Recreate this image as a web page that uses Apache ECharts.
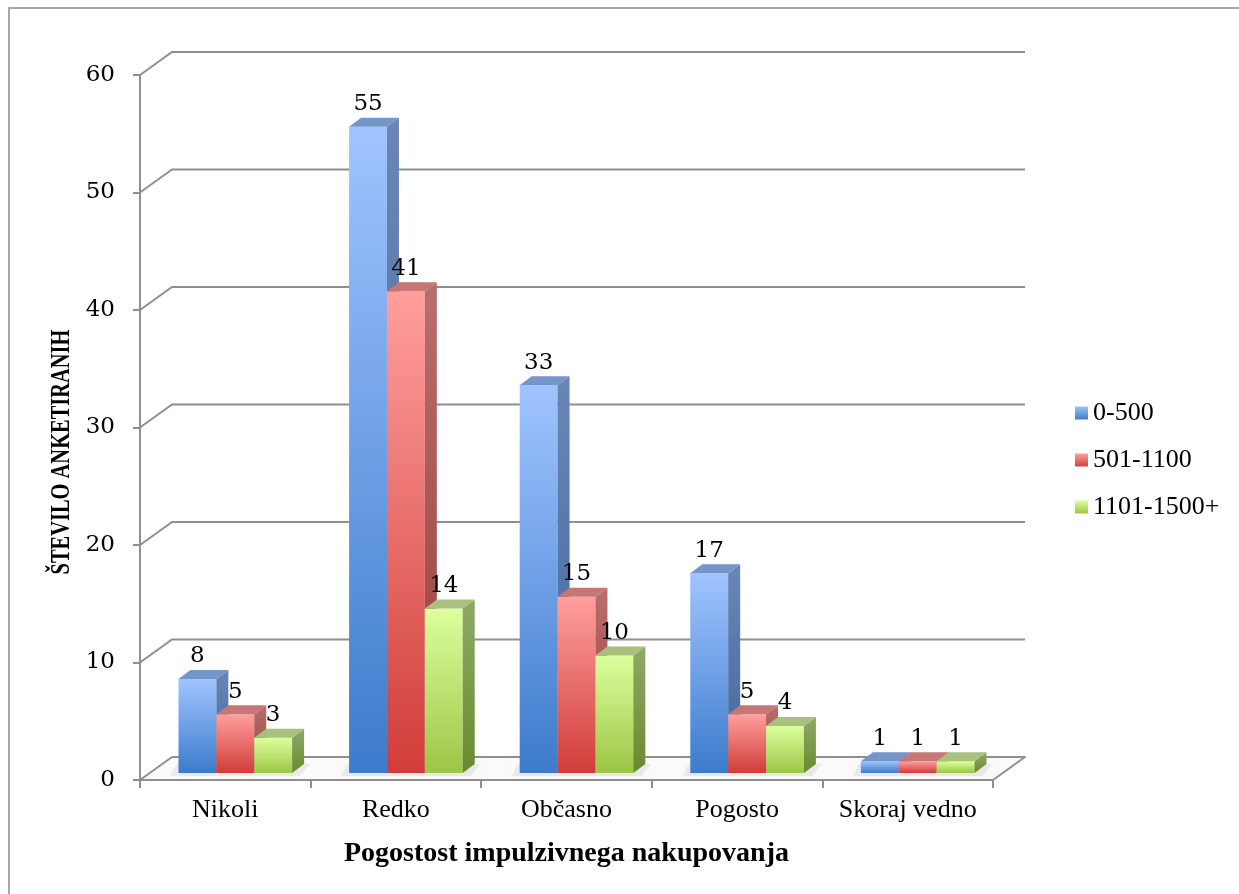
<!DOCTYPE html>
<html>
<head>
<meta charset="utf-8">
<script src="https://cdn.jsdelivr.net/npm/echarts@6/dist/echarts.min.js"></script>
<style>
  html, body { margin: 0; padding: 0; background: #fff; }
  #chart { width: 1239px; height: 894px; }
</style>
</head>
<body>
<div id="chart"></div>
<script>
// Survey answers: how often respondents shop on impulse, by spending bracket
const categories = ['Nikoli', 'Redko', 'Občasno', 'Pogosto', 'Skoraj vedno'];
const seriesNames = ['0-500', '501-1100', '1101-1500+'];
const values0_500 = [8, 55, 33, 17, 1];
const values501_1100 = [5, 41, 15, 5, 1];
const values1101_1500 = [3, 14, 10, 4, 1];
const yTicks = [0, 10, 20, 30, 40, 50, 60];

const xTitle = 'Pogostost impulzivnega nakupovanja';
const yTitle = 'ŠTEVILO ANKETIRANIH';

// Pseudo-3D geometry (pixels): depth of the floor / back wall, bar placement in depth
const WALL_DX = 32, WALL_DY = -23;
const BAR_OX = 10, BAR_OY = -7;
const BAR_DX = 12, BAR_DY = -9;
const BAR_FRACTION = 0.222;

const palettes = [
  { front: ['#a0c4ff', '#3c7bcc'], side: ['#6a86b6', '#3f669e'], top: '#7495c9', legend: ['#9ec2fb', '#3e7dcd'] },
  { front: ['#ff9f9c', '#d03d39'], side: ['#b86f6d', '#9a3c39'], top: '#c47775', legend: ['#ff9e9b', '#d2423e'] },
  { front: ['#dcff9c', '#9cc646'], side: ['#8fa968', '#6a8a2e'], top: '#a9c07e', legend: ['#ddff9f', '#9dc748'] }
];

function vGrad(c0, c1) {
  return new echarts.graphic.LinearGradient(0, 0, 0, 1, [
    { offset: 0, color: c0 }, { offset: 1, color: c1 }
  ]);
}

const lineColor = '#8f8f8f';

// Back-wall gridlines, left-wall diagonals and the floor
function renderWall(params, api) {
  const v = api.value(1);
  const p = api.coord([0, v]);
  const band = api.size([1, 0])[0];
  const xl = p[0] - band / 2;
  const xr = xl + band * categories.length;
  const y = p[1];
  const children = [];
  if (v === 0) {
    children.push({
      type: 'polygon',
      shape: { points: [[xl, y], [xr, y], [xr + WALL_DX, y + WALL_DY], [xl + WALL_DX, y + WALL_DY]] },
      style: { fill: '#fbfbfb', stroke: lineColor, lineWidth: 2, lineJoin: 'round' }
    });
  } else {
    children.push({
      type: 'polyline',
      shape: { points: [[xl, y], [xl + WALL_DX, y + WALL_DY], [xr + WALL_DX, y + WALL_DY]] },
      style: { stroke: lineColor, lineWidth: 2, fill: null }
    });
  }
  return { type: 'group', children: children };
}

function makeBarRenderer(s) {
  const pal = palettes[s];
  return function (params, api) {
    const cat = api.value(0);
    const val = api.value(1);
    const base = api.coord([cat, 0]);
    const top = api.coord([cat, val]);
    const band = api.size([1, 0])[0];
    const bw = band * BAR_FRACTION;
    const x0 = base[0] - 1.5 * bw + s * bw + BAR_OX;
    const x1 = x0 + bw;
    const yb = base[1] + BAR_OY;
    const yt = top[1] + BAR_OY;
    const children = [];
    if (s === 0) {
      // soft floor shadow beneath the whole group
      const gx0 = x0, gx1 = x0 + 3 * bw;
      children.push({
        type: 'polygon',
        shape: { points: [[gx0 - 8, yb + 3], [gx1 + 8, yb + 3], [gx1 + BAR_DX + 6, yb + BAR_DY], [gx0 - 2, yb + BAR_DY]] },
        style: { fill: 'rgba(0,0,0,0.06)', shadowBlur: 9, shadowColor: 'rgba(0,0,0,0.28)' }
      });
    }
    children.push({
      type: 'rect',
      shape: { x: x0, y: yt, width: bw, height: yb - yt },
      style: { fill: vGrad(pal.front[0], pal.front[1]) }
    });
    children.push({
      type: 'polygon',
      shape: { points: [[x1, yb], [x1, yt], [x1 + BAR_DX, yt + BAR_DY], [x1 + BAR_DX, yb + BAR_DY]] },
      style: { fill: vGrad(pal.side[0], pal.side[1]) }
    });
    children.push({
      type: 'polygon',
      shape: { points: [[x0, yt], [x1, yt], [x1 + BAR_DX, yt + BAR_DY], [x0 + BAR_DX, yt + BAR_DY]] },
      style: { fill: pal.top }
    });
    children.push({
      type: 'text',
      z2: 10,
      style: {
        x: x0 + bw / 2,
        y: yt - 11,
        text: String(val),
        align: 'center',
        verticalAlign: 'bottom',
        font: '23px "DejaVu Serif"',
        fill: '#000'
      }
    });
    return { type: 'group', children: children };
  };
}

const valueSets = [values0_500, values501_1100, values1101_1500];

const barSeries = valueSets.map(function (vals, s) {
  return {
    name: seriesNames[s],
    type: 'custom',
    z: 3 + s,
    clip: false,
    renderItem: makeBarRenderer(s),
    encode: { x: 0, y: 1 },
    itemStyle: { color: vGrad(palettes[s].legend[0], palettes[s].legend[1]) },
    data: vals.map(function (v, i) { return [i, v]; })
  };
});

const chart = echarts.init(document.getElementById('chart'), null, { renderer: 'canvas' });

chart.setOption({
  animation: false,
  backgroundColor: '#fff',
  grid: { left: 140, right: 246, top: 75, bottom: 114, containLabel: false },
  xAxis: {
    type: 'category',
    data: categories,
    boundaryGap: true,
    axisLine: { show: true, lineStyle: { color: lineColor, width: 2 } },
    axisTick: { show: true, length: 8, lineStyle: { color: lineColor, width: 2 } },
    axisLabel: { interval: 0, margin: 17, color: '#000', fontFamily: 'Liberation Serif', fontSize: 26 },
    splitLine: { show: false },
    name: xTitle,
    nameLocation: 'middle',
    nameGap: 60,
    nameTextStyle: { color: '#000', fontFamily: 'Liberation Serif', fontWeight: 'bold', fontSize: 28 }
  },
  yAxis: {
    type: 'value',
    min: 0,
    max: 60,
    interval: 10,
    axisLine: { show: true, lineStyle: { color: lineColor, width: 2 } },
    axisTick: { show: true, length: 7, lineStyle: { color: lineColor, width: 2 } },
    axisLabel: {
      margin: 25, color: '#000', fontFamily: 'DejaVu Serif', fontSize: 23,
      formatter: function (v) { return yTicks.indexOf(v) >= 0 ? String(v) : ''; }
    },
    splitLine: { show: false }
  },
  legend: {
    data: seriesNames,
    orient: 'vertical',
    left: 1070,
    top: 393,
    icon: 'rect',
    itemWidth: 13,
    itemHeight: 13,
    itemGap: 17,
    textStyle: { color: '#000', fontFamily: 'Liberation Serif', fontSize: 26, lineHeight: 30 }
  },
  graphic: [
    {
      type: 'rect',
      silent: true,
      z: -10,
      shape: { x: 9, y: 8, width: 1260, height: 920 },
      style: { fill: null, stroke: '#8a8a8a', lineWidth: 1.5 }
    },
    {
      type: 'text',
      x: 62,
      y: 452,
      rotation: Math.PI / 2,
      scaleX: 0.73,
      style: {
        text: yTitle,
        align: 'center',
        verticalAlign: 'middle',
        font: 'bold 28px "Liberation Serif"',
        fill: '#000'
      }
    }
  ],
  series: [
    {
      type: 'custom',
      name: 'wall',
      z: 1,
      clip: false,
      silent: true,
      renderItem: renderWall,
      encode: { x: 0, y: 1 },
      data: yTicks.map(function (v) { return [0, v]; })
    }
  ].concat(barSeries)
});
</script>
</body>
</html>
